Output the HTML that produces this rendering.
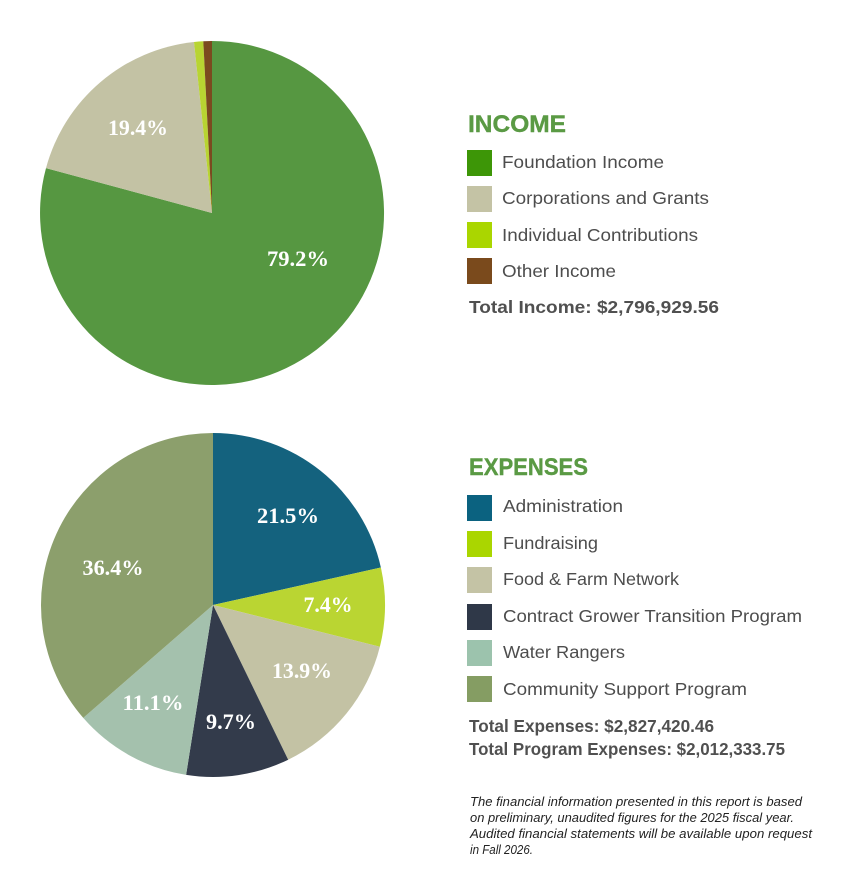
<!DOCTYPE html>
<html>
<head>
<meta charset="utf-8">
<style>
  html, body { margin: 0; padding: 0; background: #ffffff; }
  svg { display: block; }
  .lg { font-family: "Liberation Sans", sans-serif; font-size: 17.5px; fill: #4d4d4d; }
  .tt { font-family: "Liberation Sans", sans-serif; font-size: 17.5px; font-weight: bold; fill: #505050; }
  .hd { font-family: "Liberation Sans", sans-serif; font-size: 24.5px; font-weight: bold; fill: #5a9a44; stroke: #5a9a44; stroke-width: 0.4px; }
  .pl { font-family: "Liberation Serif", serif; font-size: 22px; font-weight: bold; fill: #ffffff; }
  .fn { font-family: "Liberation Sans", sans-serif; font-size: 12.5px; font-style: italic; fill: #222222; }
</style>
</head>
<body>
<svg width="867" height="888" viewBox="0 0 867 888" xmlns="http://www.w3.org/2000/svg">
  <rect width="867" height="888" fill="#ffffff"/>

  <!-- Income pie -->
  <path d="M212,213 L212,41 A172,172 0 1 1 46.0,168.1 Z" fill="#569741"/>
  <path d="M212,213 L46.0,168.1 A172,172 0 0 1 194.0,41.95 Z" fill="#c3c2a4"/>
  <path d="M212,213 L194.0,41.95 A172,172 0 0 1 203.3,41.2 Z" fill="#b8d432"/>
  <path d="M212,213 L203.3,41.2 A172,172 0 0 1 212,41 Z" fill="#7b4a1f"/>
  <text class="pl" x="298" y="266" text-anchor="middle" textLength="62" lengthAdjust="spacingAndGlyphs">79.2%</text>
  <text class="pl" x="138" y="135" text-anchor="middle" textLength="60" lengthAdjust="spacingAndGlyphs">19.4%</text>

  <!-- Expenses pie -->
  <path d="M213,605 L213,433 A172,172 0 0 1 380.86,567.48 Z" fill="#14627e"/>
  <path d="M213,605 L380.86,567.48 A172,172 0 0 1 379.86,646.73 Z" fill="#bad532"/>
  <path d="M213,605 L379.86,646.73 A172,172 0 0 1 288.18,759.70 Z" fill="#c3c2a4"/>
  <path d="M213,605 L288.18,759.70 A172,172 0 0 1 186.10,774.88 Z" fill="#333b4b"/>
  <path d="M213,605 L186.10,774.88 A172,172 0 0 1 83.26,717.93 Z" fill="#a4c1ad"/>
  <path d="M213,605 L83.26,717.93 A172,172 0 0 1 213,433 Z" fill="#8c9f6c"/>
  <text class="pl" x="288" y="523" text-anchor="middle" textLength="62" lengthAdjust="spacingAndGlyphs">21.5%</text>
  <text class="pl" x="328" y="612" text-anchor="middle" textLength="49" lengthAdjust="spacingAndGlyphs">7.4%</text>
  <text class="pl" x="302" y="678" text-anchor="middle" textLength="60" lengthAdjust="spacingAndGlyphs">13.9%</text>
  <text class="pl" x="113" y="575" text-anchor="middle" textLength="61" lengthAdjust="spacingAndGlyphs">36.4%</text>
  <text class="pl" x="153" y="710" text-anchor="middle" textLength="61" lengthAdjust="spacingAndGlyphs">11.1%</text>
  <text class="pl" x="231" y="729" text-anchor="middle" textLength="50" lengthAdjust="spacingAndGlyphs">9.7%</text>

  <!-- Income legend -->
  <text class="hd" x="468" y="132" textLength="98" lengthAdjust="spacingAndGlyphs">INCOME</text>
  <rect x="467" y="150" width="25" height="26" fill="#3d9607"/>
  <text class="lg" x="502" y="168" textLength="162" lengthAdjust="spacingAndGlyphs">Foundation Income</text>
  <rect x="467" y="186" width="25" height="26" fill="#c4c3a5"/>
  <text class="lg" x="502" y="204" textLength="207" lengthAdjust="spacingAndGlyphs">Corporations and Grants</text>
  <rect x="467" y="222" width="25" height="26" fill="#aad600"/>
  <text class="lg" x="502" y="241" textLength="196" lengthAdjust="spacingAndGlyphs">Individual Contributions</text>
  <rect x="467" y="258" width="25" height="26" fill="#7a4a1c"/>
  <text class="lg" x="502" y="277" textLength="114" lengthAdjust="spacingAndGlyphs">Other Income</text>
  <text class="tt" x="469" y="313" textLength="250" lengthAdjust="spacingAndGlyphs">Total Income: $2,796,929.56</text>

  <!-- Expenses legend -->
  <text class="hd" x="469" y="475" textLength="119" lengthAdjust="spacingAndGlyphs">EXPENSES</text>
  <rect x="467" y="495" width="25" height="26" fill="#0b6280"/>
  <text class="lg" x="503" y="512" textLength="120" lengthAdjust="spacingAndGlyphs">Administration</text>
  <rect x="467" y="531" width="25" height="26" fill="#aad600"/>
  <text class="lg" x="503" y="549" textLength="95" lengthAdjust="spacingAndGlyphs">Fundraising</text>
  <rect x="467" y="567" width="25" height="26" fill="#c4c3a5"/>
  <text class="lg" x="503" y="585" textLength="176" lengthAdjust="spacingAndGlyphs">Food &amp; Farm Network</text>
  <rect x="467" y="604" width="25" height="26" fill="#2f3848"/>
  <text class="lg" x="503" y="622" textLength="299" lengthAdjust="spacingAndGlyphs">Contract Grower Transition Program</text>
  <rect x="467" y="640" width="25" height="26" fill="#9cc3ad"/>
  <text class="lg" x="503" y="658" textLength="122" lengthAdjust="spacingAndGlyphs">Water Rangers</text>
  <rect x="467" y="676" width="25" height="26" fill="#859d63"/>
  <text class="lg" x="503" y="695" textLength="244" lengthAdjust="spacingAndGlyphs">Community Support Program</text>
  <text class="tt" x="469" y="732" textLength="245" lengthAdjust="spacingAndGlyphs">Total Expenses: $2,827,420.46</text>
  <text class="tt" x="469" y="755" textLength="316" lengthAdjust="spacingAndGlyphs">Total Program Expenses: $2,012,333.75</text>

  <!-- Footnote -->
  <text class="fn" x="470" y="806" textLength="332" lengthAdjust="spacingAndGlyphs">The financial information presented in this report is based</text>
  <text class="fn" x="470" y="822" textLength="324" lengthAdjust="spacingAndGlyphs">on preliminary, unaudited figures for the 2025 fiscal year.</text>
  <text class="fn" x="470" y="838" textLength="342" lengthAdjust="spacingAndGlyphs">Audited financial statements will be available upon request</text>
  <text class="fn" x="470" y="854" textLength="63" lengthAdjust="spacingAndGlyphs">in Fall 2026.</text>
</svg>
</body>
</html>
